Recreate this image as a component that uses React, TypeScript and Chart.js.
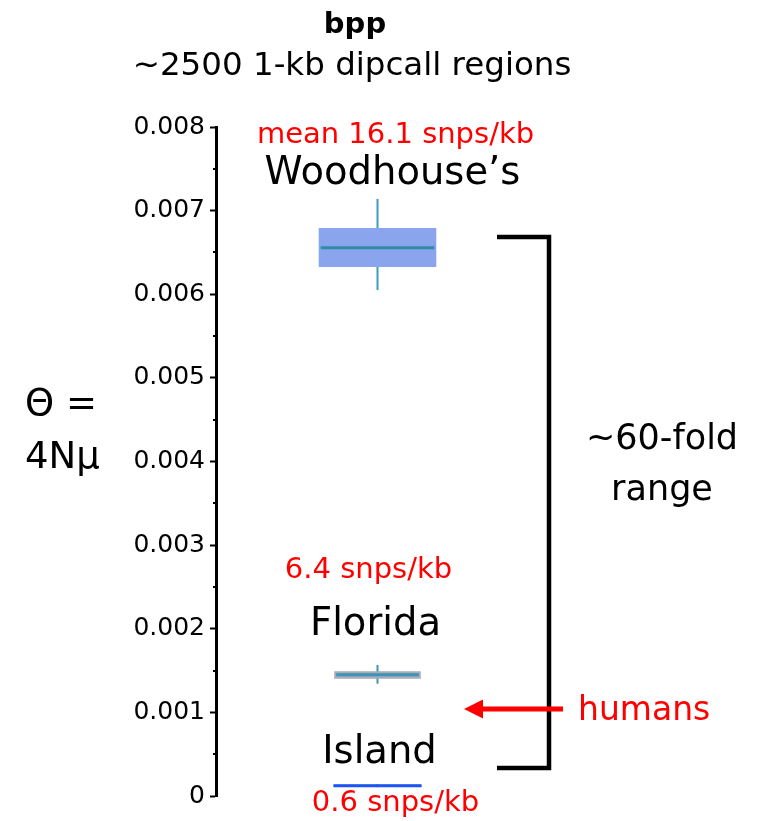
import { useEffect, useRef } from 'react';
import { Chart, registerables } from 'chart.js';

Chart.register(...registerables);

// ---- data ----
const groups = ['Woodhouse’s', 'Florida', 'Island'];
const snpLabels = ['mean 16.1 snps/kb', '6.4 snps/kb', '0.6 snps/kb'];
const whiskerLow = [0.00605, 0.001343, 0.000105];
const q1 = [0.006326, 0.001403, 0.000112];
const median = [0.006557, 0.001451, 0.000123];
const q3 = [0.006792, 0.001491, 0.000134];
const whiskerHigh = [0.00714, 0.001567, 0.00014];
const yTickLabels = ['0', '0.001', '0.002', '0.003', '0.004', '0.005', '0.006', '0.007', '0.008'];
const rangeBracket = [0.000335, 0.006685];
const humansTheta = 0.00104;
const titleText = 'bpp';
const subtitleText = '~2500 1-kb dipcall regions';
const yAxisLabel = ['Θ =', '4Nμ'];
const rangeLabel = ['~60-fold', 'range'];
const humansLabel = 'humans';

// ---- styles ----
const FONT = '"DejaVu Sans", sans-serif';
const boxColors = ['#8aa5ee', '#a9aabd', '#1d55f2'];
const medianColors = ['#2f8ba6', '#3a96b2', '#1d55f2'];
const whiskerColors = ['#3a9cbd', '#3a96b2', '#3a8cc0'];
const barPercentages = [0.364, 0.268, 0.272];
const labelPlacement = [
  { nameDx: 15, nameY: 184, snpDx: 18, snpY: 143 },
  { nameDx: -2, nameY: 635, snpDx: -9, snpY: 578 },
  { nameDx: 2, nameY: 763, snpDx: 18, snpY: 811 },
];

const annotPlugin = {
  id: 'annot',
  beforeDatasetsDraw(chart: any) {
    const ctx = chart.ctx;
    const y = chart.scales.y;
    ctx.save();
    groups.forEach((_, i) => {
      const el = chart.getDatasetMeta(i).data[0];
      if (!el) return;
      ctx.strokeStyle = whiskerColors[i];
      ctx.lineWidth = 2;
      ctx.beginPath();
      ctx.moveTo(el.x, y.getPixelForValue(whiskerHigh[i]));
      ctx.lineTo(el.x, y.getPixelForValue(whiskerLow[i]));
      ctx.stroke();
    });
    ctx.restore();
  },
  afterDatasetsDraw(chart: any) {
    const ctx = chart.ctx;
    const y = chart.scales.y;
    ctx.save();
    groups.forEach((_, i) => {
      const el = chart.getDatasetMeta(i).data[0];
      if (!el) return;
      const w = el.width;
      ctx.strokeStyle = medianColors[i];
      ctx.lineWidth = 3;
      const py = y.getPixelForValue(median[i]);
      ctx.beginPath();
      ctx.moveTo(el.x - w / 2 + (i === 2 ? 0 : 2), py);
      ctx.lineTo(el.x + w / 2 - (i === 2 ? 0 : 2), py);
      ctx.stroke();
    });
    ctx.restore();
  },
  afterDraw(chart: any) {
    const ctx = chart.ctx;
    const y = chart.scales.y;
    const area = chart.chartArea;
    ctx.save();

    // minor ticks
    ctx.strokeStyle = '#000';
    ctx.lineWidth = 2;
    const ticks = y.ticks;
    for (let k = 0; k < ticks.length - 1; k++) {
      const mid = (ticks[k].value + ticks[k + 1].value) / 2;
      const py = Math.round(y.getPixelForValue(mid));
      ctx.beginPath();
      ctx.moveTo(area.left - 3, py);
      ctx.lineTo(area.left, py);
      ctx.stroke();
    }

    // titles
    ctx.fillStyle = '#000';
    ctx.textAlign = 'center';
    ctx.textBaseline = 'alphabetic';
    ctx.font = `bold 29px ${FONT}`;
    ctx.fillText(titleText, 355, 33);
    ctx.font = `32.5px ${FONT}`;
    ctx.fillText(subtitleText, 352, 75);

    // y axis label
    ctx.textAlign = 'left';
    ctx.font = `37px ${FONT}`;
    ctx.fillText(yAxisLabel[0], 25, 415);
    ctx.fillText(yAxisLabel[1], 25, 468);

    // group labels
    groups.forEach((name, i) => {
      const el = chart.getDatasetMeta(i).data[0];
      if (!el) return;
      const p = labelPlacement[i];
      ctx.textAlign = 'center';
      ctx.fillStyle = '#000';
      ctx.font = `38.5px ${FONT}`;
      ctx.fillText(name, el.x + p.nameDx, p.nameY);
      ctx.fillStyle = '#ff0000';
      ctx.font = `29px ${FONT}`;
      ctx.fillText(snpLabels[i], el.x + p.snpDx, p.snpY);
    });

    // bracket
    const xR = area.right + 10;
    const xL = area.right - 42;
    const yT = y.getPixelForValue(rangeBracket[1]);
    const yB = y.getPixelForValue(rangeBracket[0]);
    ctx.strokeStyle = '#000';
    ctx.lineWidth = 4.5;
    ctx.lineJoin = 'miter';
    ctx.beginPath();
    ctx.moveTo(xL, yT);
    ctx.lineTo(xR, yT);
    ctx.lineTo(xR, yB);
    ctx.lineTo(xL, yB);
    ctx.stroke();

    // range label
    ctx.fillStyle = '#000';
    ctx.textAlign = 'center';
    ctx.font = `35px ${FONT}`;
    ctx.fillText(rangeLabel[0], 662, 449);
    ctx.fillText(rangeLabel[1], 662, 500);

    // humans arrow
    const ya = y.getPixelForValue(humansTheta);
    const tip = xL - 33;
    ctx.strokeStyle = '#ff0000';
    ctx.fillStyle = '#ff0000';
    ctx.lineWidth = 5;
    ctx.beginPath();
    ctx.moveTo(xR + 14, ya);
    ctx.lineTo(tip + 15, ya);
    ctx.stroke();
    ctx.beginPath();
    ctx.moveTo(tip, ya);
    ctx.lineTo(tip + 19, ya - 9.5);
    ctx.lineTo(tip + 19, ya + 9.5);
    ctx.closePath();
    ctx.fill();
    ctx.textAlign = 'left';
    ctx.font = `33px ${FONT}`;
    ctx.fillText(humansLabel, 578, 720);

    ctx.restore();
  },
};

export default function App() {
  const ref = useRef<HTMLCanvasElement | null>(null);
  useEffect(() => {
    if (!ref.current) return;
    Chart.defaults.font.family = FONT;
    const chart = new Chart(ref.current, {
      type: 'bar',
      data: {
        labels: [''],
        datasets: groups.map((g, i) => ({
          label: g,
          data: [[q1[i], q3[i]]] as any,
          backgroundColor: boxColors[i],
          borderWidth: 0,
          barPercentage: barPercentages[i],
          categoryPercentage: 1,
          grouped: false,
        })),
      },
      options: {
        animation: false,
        responsive: true,
        maintainAspectRatio: false,
        layout: { padding: { left: 0, top: 127, right: 224, bottom: 25 } },
        plugins: {
          legend: { display: false },
          tooltip: { enabled: false },
          title: { display: false },
        },
        scales: {
          x: { display: false },
          y: {
            min: 0,
            max: 0.008,
            afterFit: (s: any) => {
              s.width = 216;
            },
            ticks: {
              stepSize: 0.001,
              color: '#000',
              font: { size: 25, family: FONT },
              padding: 5,
              callback: (_v: any, i: number) => yTickLabels[i],
            },
            grid: {
              drawOnChartArea: false,
              drawTicks: true,
              tickLength: 6,
              tickWidth: 2,
              tickColor: '#000',
            },
            border: { display: true, color: '#000', width: 3 },
          },
        },
      },
      plugins: [annotPlugin],
    });
    return () => chart.destroy();
  }, []);
  return (
    <div style={{ position: 'absolute', left: 0, top: 0, width: 763, height: 821 }}>
      <canvas ref={ref} />
    </div>
  );
}
